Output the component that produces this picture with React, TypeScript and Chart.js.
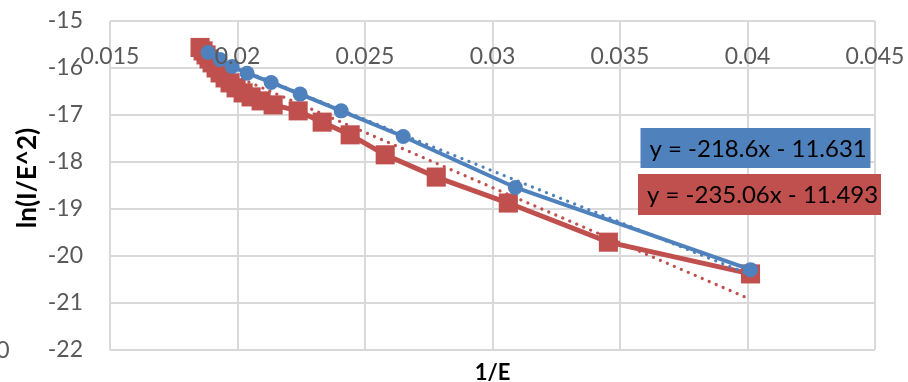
import { useEffect, useRef } from 'react';
import { Chart, registerables } from 'chart.js';

Chart.register(...registerables);

// ---- data ----
const blueX = [0.018846, 0.019317, 0.019788, 0.020377, 0.021319, 0.022457, 0.024066, 0.026499, 0.030895, 0.040118];
const blueY = [-15.669, -15.818, -15.967, -16.111, -16.307, -16.555, -16.912, -17.458, -18.542, -20.29];

const redX = [
  0.018532, 0.01865, 0.018767, 0.018885, 0.019003, 0.01916, 0.019317, 0.019513, 0.01971, 0.019945, 0.02022,
  0.020534, 0.020926, 0.021397, 0.022378, 0.02332, 0.024419, 0.025793, 0.027794, 0.03062, 0.034545, 0.040118,
];
const redY = [
  -15.563, -15.637, -15.722, -15.807, -15.892, -15.999, -16.105, -16.211, -16.317, -16.423, -16.53,
  -16.615, -16.7, -16.785, -16.912, -17.152, -17.422, -17.847, -18.321, -18.873, -19.706, -20.381,
];

const blueSlope = -218.6;
const blueIntercept = -11.631;
const redSlope = -235.06;
const redIntercept = -11.493;

const blueEquation = 'y = -218.6x - 11.631';
const redEquation = 'y = -235.06x - 11.493';

const xAxisTitle = '1/E';
const yAxisTitle = 'ln(I/E^2)';
const strayLabel = '0';

const xMin = 0.015;
const xMax = 0.045;
const xStep = 0.005;
const yMin = -22;
const yMax = -15;
const yStep = 1;

// ---- styles ----
const BLUE = '#4F81BD';
const RED = '#C0504D';
const GRID = '#D9D9D9';
const TICK_COLOR = '#595959';
const FONT_FAMILY = 'Lato, "Open Sans", sans-serif';

const toPoints = (xs: number[], ys: number[]) => xs.map((x, i) => ({ x, y: ys[i] }));
const trend = (xs: number[], m: number, b: number) => {
  const lo = Math.min(...xs);
  const hi = Math.max(...xs);
  return [
    { x: lo, y: m * lo + b },
    { x: hi, y: m * hi + b },
  ];
};

const fmt = (v: number) => String(parseFloat(v.toFixed(4)));

const overlayPlugin = {
  id: 'overlay',
  afterDatasetsDraw(chart: any) {
    const ctx = chart.ctx as CanvasRenderingContext2D;
    const xs = chart.scales.x;
    const area = chart.chartArea;
    ctx.save();

    // x tick labels drawn inside the plot, below the top edge
    ctx.font = `23px ${FONT_FAMILY}`;
    ctx.fillStyle = TICK_COLOR;
    ctx.textAlign = 'center';
    ctx.textBaseline = 'middle';
    xs.ticks.forEach((t: any) => {
      ctx.fillText(fmt(t.value), xs.getPixelForValue(t.value), area.top + 35.5);
    });

    // equation boxes
    const boxes = [
      { text: blueEquation, color: BLUE, x: 640.5, y: 128, w: 230, h: 40 },
      { text: redEquation, color: RED, x: 638, y: 174, w: 243, h: 41 },
    ];
    ctx.font = `24px ${FONT_FAMILY}`;
    ctx.textAlign = 'left';
    boxes.forEach((b) => {
      ctx.fillStyle = b.color;
      ctx.fillRect(b.x, b.y, b.w, b.h);
      ctx.fillStyle = '#000000';
      ctx.fillText(b.text, b.x + 9, b.y + b.h / 2 + 1);
    });

    // axis titles
    ctx.font = `bold 22px ${FONT_FAMILY}`;
    ctx.fillStyle = '#000000';
    ctx.textAlign = 'center';
    ctx.fillText(xAxisTitle, (area.left + area.right) / 2, 372.5);

    ctx.save();
    ctx.translate(27.5, 178);
    ctx.rotate(-Math.PI / 2);
    ctx.font = `bold 26px ${FONT_FAMILY}`;
    ctx.fillText(yAxisTitle, 0, 0);
    ctx.restore();

    // stray label at bottom-left
    ctx.font = `23px ${FONT_FAMILY}`;
    ctx.fillStyle = TICK_COLOR;
    ctx.textAlign = 'right';
    ctx.fillText(strayLabel, 9.5, 351);

    ctx.restore();
  },
};

export default function App() {
  const canvasRef = useRef<HTMLCanvasElement | null>(null);

  useEffect(() => {
    if (!canvasRef.current) return;
    const chart = new Chart(canvasRef.current, {
      type: 'line',
      data: {
        datasets: [
          {
            label: 'blue trend',
            data: trend(blueX, blueSlope, blueIntercept),
            borderColor: BLUE,
            borderWidth: 3.2,
            borderDash: [0.1, 7.5],
            borderCapStyle: 'round',
            pointRadius: 0,
            fill: false,
            order: 1,
          },
          {
            label: 'blue',
            data: toPoints(blueX, blueY),
            borderColor: BLUE,
            backgroundColor: BLUE,
            borderWidth: 4,
            pointStyle: 'circle',
            pointRadius: 7.5,
            pointBorderWidth: 0,
            pointBackgroundColor: BLUE,
            tension: 0,
            fill: false,
            order: 2,
          },
          {
            label: 'red trend',
            data: trend(redX, redSlope, redIntercept),
            borderColor: RED,
            borderWidth: 3.2,
            borderDash: [0.1, 7.5],
            borderCapStyle: 'round',
            pointRadius: 0,
            fill: false,
            order: 3,
          },
          {
            label: 'red',
            data: toPoints(redX, redY),
            borderColor: RED,
            backgroundColor: RED,
            borderWidth: 5,
            pointStyle: 'rect',
            pointRadius: 13.5,
            pointBorderWidth: 0,
            pointBackgroundColor: RED,
            tension: 0,
            fill: false,
            order: 4,
          },
        ],
      },
      options: {
        animation: false,
        responsive: false,
        events: [],
        layout: { padding: { left: 0, top: 21, right: 33, bottom: 32 } },
        plugins: {
          legend: { display: false },
          tooltip: { enabled: false },
          title: { display: false },
        },
        scales: {
          x: {
            type: 'linear',
            min: xMin,
            max: xMax,
            ticks: { stepSize: xStep, display: false },
            grid: { color: GRID, lineWidth: 2, drawTicks: false },
            border: { display: false },
            afterFit: (s: any) => {
              s.height = 0;
              s.paddingLeft = 0;
              s.paddingRight = 0;
              s.paddingTop = 0;
              s.paddingBottom = 0;
            },
          },
          y: {
            type: 'linear',
            min: yMin,
            max: yMax,
            ticks: {
              stepSize: yStep,
              color: TICK_COLOR,
              font: { family: FONT_FAMILY, size: 23 },
              padding: 27,
            },
            grid: { color: GRID, lineWidth: 2, drawTicks: false },
            border: { display: false },
            afterFit: (s: any) => {
              s.width = 110;
              s.paddingTop = 0;
              s.paddingBottom = 0;
              s.paddingLeft = 0;
              s.paddingRight = 0;
            },
          },
        },
      },
      plugins: [overlayPlugin],
    } as any);

    if ((document as any).fonts && (document as any).fonts.ready) {
      (document as any).fonts.ready.then(() => chart.update());
    }
    return () => chart.destroy();
  }, []);

  return (
    <div style={{ position: 'absolute', left: 0, top: 0, width: 908, height: 382, background: '#ffffff' }}>
      <canvas ref={canvasRef} width={908} height={382} style={{ display: 'block' }} />
    </div>
  );
}
